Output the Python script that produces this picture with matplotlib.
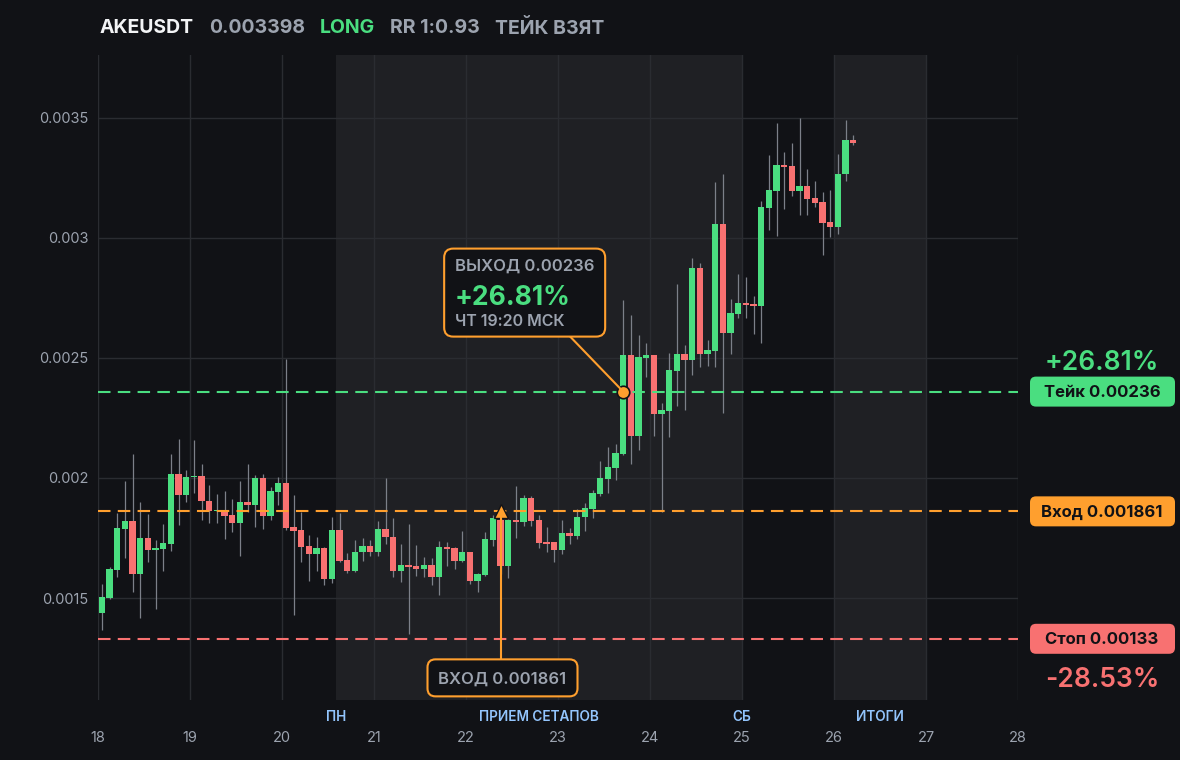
import numpy as np
import matplotlib
matplotlib.use("Agg")
import matplotlib.pyplot as plt
from matplotlib.patches import FancyBboxPatch
from matplotlib.transforms import IdentityTransform
from matplotlib.ticker import FuncFormatter

plt.rcParams['font.family'] = ['Inter', 'DejaVu Sans']

# ---------------------------------------------------------------- data
# 2h candles from the 18th, prices in units of 1e-6
start_day = 18
opens = [1437, 1501, 1616, 1788, 1821, 1598, 1750, 1701, 1704, 1725,
         2017, 1929, 2004, 2008, 1906, 1863, 1866, 1844, 1813, 1900,
         1889, 1999, 1842, 1942, 1979, 1796, 1783, 1717, 1684, 1710,
         1580, 1783, 1658, 1612, 1692, 1717, 1692, 1787, 1754, 1612,
         1637, 1633, 1621, 1637, 1587, 1712, 1708, 1654, 1692, 1571,
         1596, 1742, 1825, 1633, 1825, 1817, 1917, 1825, 1733, 1733,
         1700, 1771, 1758, 1837, 1871, 1933, 1996, 2042, 2100, 2512,
         2176, 2502, 2512, 2268, 2281, 2447, 2517, 2493, 2875, 2518,
         2529, 3058, 2606, 2685, 2729, 2725, 2718, 3126, 3197, 3304,
         3300, 3197, 3217, 3167, 3150, 3067, 3047, 3267, 3408]
highs = [1559, 1628, 1853, 1989, 2100, 1901, 1850, 1741, 1808, 2100,
         2163, 2034, 2159, 2058, 1971, 1935, 1946, 1913, 1989, 2058,
         2014, 2017, 1964, 2004, 2496, 1929, 1860, 1764, 1754, 1714,
         1838, 1854, 1689, 1742, 1750, 1742, 1821, 2000, 1833, 1725,
         1808, 1721, 1671, 1667, 1738, 1733, 1712, 1779, 1692, 1604,
         1775, 1846, 1840, 1830, 1967, 1929, 1925, 1846, 1796, 1733,
         1825, 1792, 1871, 1896, 1950, 2071, 2129, 2142, 2742, 2679,
         2596, 2562, 2512, 2314, 2521, 2808, 2554, 2917, 2896, 2575,
         3233, 3267, 2746, 2850, 2837, 2758, 3154, 3346, 3479, 3358,
         3396, 3500, 3287, 3237, 3192, 3200, 3350, 3492, 3429]
lows = [1368, 1497, 1588, 1666, 1526, 1418, 1648, 1456, 1613, 1695,
        1806, 1902, 1939, 1824, 1813, 1813, 1747, 1777, 1677, 1860,
        1796, 1788, 1824, 1889, 1785, 1431, 1648, 1570, 1612, 1556,
        1562, 1648, 1605, 1608, 1654, 1675, 1675, 1725, 1587, 1567,
        1350, 1592, 1587, 1554, 1512, 1633, 1621, 1650, 1558, 1525,
        1592, 1717, 1600, 1583, 1750, 1800, 1800, 1708, 1692, 1650,
        1683, 1725, 1746, 1779, 1833, 1925, 1939, 1992, 2096, 2060,
        2118, 2422, 2176, 1860, 2172, 2301, 2285, 2431, 2464, 2468,
        2464, 2272, 2518, 2668, 2668, 2601, 2564, 3035, 3010, 3122,
        3176, 3097, 3097, 3130, 2931, 3005, 3018, 3239, 3389]
closes = [1504, 1621, 1791, 1821, 1598, 1750, 1701, 1710, 1730, 2017,
          1929, 2004, 2008, 1906, 1863, 1866, 1841, 1813, 1900, 1889,
          1999, 1842, 1946, 1979, 1791, 1781, 1713, 1684, 1710, 1580,
          1783, 1655, 1612, 1692, 1717, 1692, 1787, 1754, 1612, 1637,
          1629, 1621, 1637, 1587, 1712, 1704, 1654, 1692, 1571, 1600,
          1746, 1833, 1633, 1825, 1817, 1917, 1821, 1729, 1725, 1700,
          1771, 1758, 1837, 1875, 1937, 2000, 2046, 2104, 2512, 2176,
          2504, 2512, 2268, 2285, 2450, 2517, 2493, 2875, 2518, 2533,
          3058, 2606, 2687, 2729, 2722, 2718, 3129, 3200, 3304, 3296,
          3197, 3217, 3164, 3147, 3064, 3047, 3267, 3408, 3397]

ticker = "AKEUSDT"
last_price = "0.003398"
side = "LONG"
rr_text = "RR 1:0.93"
status = "ТЕЙК ВЗЯТ"

take_price = 0.00236
entry_price = 0.001861
stop_price = 0.00133
take_pct = "+26.81%"
stop_pct = "-28.53%"
entry_idx = 52
exit_idx = 68
exit_time = "ЧТ 19:20 МСК"

bands = [(20.583, 25.0), (26.0, 27.0)]
band_labels = ["ПН", "ПРИЕМ СЕТАПОВ", "СБ", "ИТОГИ"]
band_label_x = [20.583, 22.79, 25.0, 26.5]
x_ticks = list(range(18, 29))
y_ticks = [0.0015, 0.002, 0.0025, 0.003, 0.0035]

# ---------------------------------------------------------------- colours
BG = '#111216'
BAND = '#1f2024'
GRID = '#2a2c31'
GREEN = '#4ade80'
RED = '#f87171'
ORANGE = '#ff9f2e'
GRAY = '#9ca3af'
BLUE = '#93c5fd'

W, H = 1180, 760
fig = plt.figure(figsize=(W / 100, H / 100), dpi=100, facecolor=BG)
ax = fig.add_axes([98 / W, 60 / H, 920 / W, 645 / H])
ax.set_facecolor(BG)

o = np.array(opens) * 1e-6
h = np.array(highs) * 1e-6
l = np.array(lows) * 1e-6
c = np.array(closes) * 1e-6
x = start_day + (np.arange(len(o)) + 0.5) / 12

for a, b in bands:
    ax.axvspan(a, b, color=BAND, lw=0, zorder=0.2)

up = c >= o
cols = np.where(up, GREEN, RED)
ax.vlines(x, l, h, color='#7c8089', lw=0.9, zorder=2)
body = np.maximum(np.abs(c - o), 0.000004)
ax.bar(x, body, bottom=np.minimum(o, c), width=0.072, color=cols, lw=0, zorder=3)

for price, col in [(take_price, GREEN), (entry_price, ORANGE), (stop_price, RED)]:
    ax.axhline(price, color=col, lw=1.5, ls=(0, (6, 3.5)), zorder=4)

ax.set_xlim(18, 28)
ax.set_ylim(0.001075, 0.0037625)
ax.set_xticks(x_ticks)
ax.set_yticks(y_ticks)
ax.yaxis.set_major_formatter(FuncFormatter(lambda v, p: f'{v:g}'))
ax.set_axisbelow(True)
ax.grid(color=GRID, lw=1)
ax.tick_params(length=0, colors=GRAY, labelsize=10.5)
ax.tick_params(axis='x', pad=22)
ax.tick_params(axis='y', pad=7)
for s in ax.spines.values():
    s.set_visible(False)

for lbl, bx in zip(band_labels, band_label_x):
    ax.annotate(lbl, xy=(bx, 0), xycoords=('data', 'axes fraction'),
                xytext=(0, -12.5), textcoords='offset points', ha='center',
                va='center', color=BLUE, fontsize=9.8, fontweight='semibold')

# ---------------------------------------------------------------- title
title_parts = [(ticker, '#f3f4f6', 100), (last_price, GRAY, 209),
               (side, GREEN, 320), (rr_text, GRAY, 390), (status, GRAY, 495)]
for txt, col, px in title_parts:
    fig.text(px / W, 1 - 28 / H, txt, color=col, fontsize=14, fontweight='bold',
             va='center', ha='left')

ID = IdentityTransform()


def rbox(x0, y_top, w, hgt, fc, ec='none', lw=0, r=7):
    p = FancyBboxPatch((x0, H - y_top - hgt), w, hgt,
                       boxstyle=f"round,pad=0,rounding_size={r}",
                       fc=fc, ec=ec, lw=lw, transform=ID, zorder=6)
    fig.add_artist(p)


def ptext(px, py, s, **kw):
    fig.text(px, H - py, s, transform=ID, **kw)


def to_img(xd, yd):
    dx, dy = ax.transData.transform((xd, yd))
    return dx, H - dy


# ---------------------------------------------------------------- right labels
_, ty = to_img(28, take_price)
_, ey = to_img(28, entry_price)
_, sy = to_img(28, stop_price)
rx = 1102
ptext(rx, ty - 29, take_pct, color=GREEN, fontsize=19, fontweight='semibold',
      ha='center', va='center')
for yy, col, txt in [(ty, GREEN, f"Тейк {take_price:g}"),
                     (ey, ORANGE, f"Вход {entry_price:g}"),
                     (sy, RED, f"Стоп {stop_price:g}")]:
    rbox(1030, yy - 15, 145, 30, col, r=6)
    ptext(rx, yy + 1, txt, color='#111216', fontsize=12, fontweight='bold',
          ha='center', va='center', zorder=7)
ptext(rx, sy + 41, stop_pct, color=RED, fontsize=19, fontweight='semibold',
      ha='center', va='center')

# ---------------------------------------------------------------- entry marker
ex_d = x[entry_idx]
ax.plot([ex_d], [entry_price], marker='^', ms=10, color=ORANGE, mec='#111216',
        mew=1, zorder=8)
tx, tyy = to_img(ex_d, entry_price)
fig.add_artist(plt.Line2D([tx, tx], [H - tyy - 6, H - (tyy + 148)], color=ORANGE,
                          lw=1.5, transform=ID, zorder=5))
rbox(tx - 73, tyy + 148, 150, 37, BG, ORANGE, 1.5, r=8)
ptext(tx + 2, tyy + 168, f"ВХОД {entry_price:g}", color=GRAY, fontsize=12,
      fontweight='semibold', ha='center', va='center', zorder=7)

# ---------------------------------------------------------------- exit marker
xx_d = x[exit_idx]
qx, qy = to_img(xx_d, take_price)
fig.add_artist(plt.Line2D([qx - 53, qx], [H - (qy - 55), H - qy], color=ORANGE,
                          lw=1.5, transform=ID, zorder=5))
ax.plot([xx_d], [take_price], marker='o', ms=9, color=ORANGE, mec='#111216',
        mew=1.2, zorder=8)
bx0, by0 = qx - 179, qy - 143
rbox(bx0, by0, 161, 88, BG, ORANGE, 1.5, r=9)
ptext(bx0 + 11, by0 + 18, f"ВЫХОД {take_price:g}", color=GRAY, fontsize=12,
      fontweight='semibold', ha='left', va='center', zorder=7)
ptext(bx0 + 10, by0 + 49, take_pct, color=GREEN, fontsize=19, fontweight='bold',
      ha='left', va='center', zorder=7)
ptext(bx0 + 11, by0 + 73, exit_time, color=GRAY, fontsize=11.5,
      fontweight='semibold', ha='left', va='center', zorder=7)

fig.savefig('out.png', dpi=100, facecolor=BG)
